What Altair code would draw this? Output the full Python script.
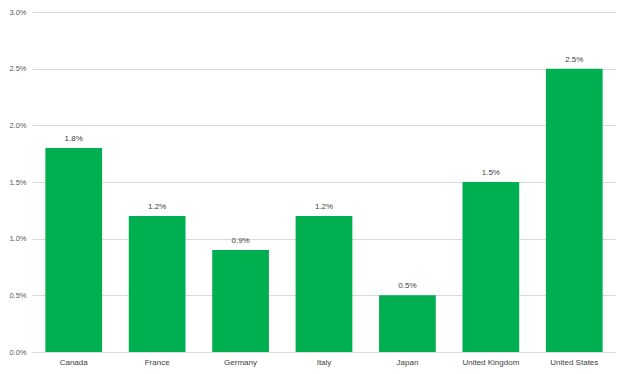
import altair as alt
import pandas as pd

countries = ["Canada", "France", "Germany", "Italy", "Japan", "United Kingdom", "United States"]
values = [0.018, 0.012, 0.009, 0.012, 0.005, 0.015, 0.025]

df = pd.DataFrame({"country": countries, "value": values})

x = alt.X("country:N", sort=countries, title=None,
          scale=alt.Scale(paddingInner=0.32, paddingOuter=0.16),
          axis=alt.Axis(labelAngle=0, domain=False, ticks=False, labelPadding=6,
                        labelFont="Liberation Sans", labelFontSize=8, labelColor="#404040"))
y = alt.Y("value:Q", title=None, scale=alt.Scale(domain=[0, 0.03], nice=False),
          axis=alt.Axis(format=".1%", values=[0, 0.005, 0.01, 0.015, 0.02, 0.025, 0.03],
                        domain=False, ticks=False, labelPadding=6, gridColor="#d9d9d9",
                        labelFont="Liberation Sans", labelFontSize=7.5, labelColor="#595959"))

bars = alt.Chart(df).mark_bar(color="#00B050").encode(x=x, y=y)
text = alt.Chart(df).mark_text(baseline="bottom", dy=-5, font="Liberation Sans",
                               fontSize=8, color="#404040").encode(
    x=alt.X("country:N", sort=countries),
    y="value:Q",
    text=alt.Text("value:Q", format=".1%"))

chart = (bars + text).properties(
    width=584, height=340,
    autosize=alt.AutoSizeParams(type="none"),
    padding={"left": 24, "top": 4, "right": 0, "bottom": 22},
).configure_view(stroke=None)

chart.save("out.html", embed_options={"renderer": "svg", "actions": False})
